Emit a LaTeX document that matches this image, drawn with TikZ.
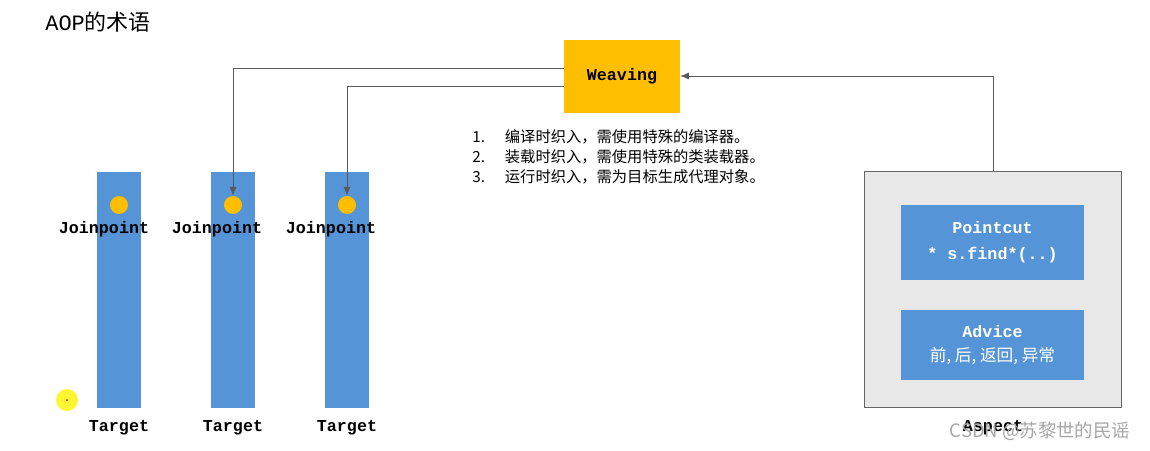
\documentclass[tikz,border=0pt]{standalone}
\usepackage{fontspec}
\setmainfont{Liberation Sans}
\setmonofont{Liberation Mono}
\newfontfamily\cjk{Noto Sans CJK SC}
\newfontfamily\courier{Liberation Mono}
\begin{document}
\begin{tikzpicture}[x=0.02cm,y=-0.02cm,
  bar/.style={fill=blueA,draw=none},
  dot/.style={circle,fill=gold,minimum size=18*0.567pt,inner sep=0},
  mlab/.style={font=\ttfamily\bfseries\fontsize{9.5}{11}\selectfont},
  conn/.style={draw=gray!70!black,line width=0.5pt},
  arr/.style={conn,-{Latex[length=5pt,width=4pt]}}]
\usetikzlibrary{arrows.meta}
\definecolor{blueA}{HTML}{5594D6}
\definecolor{gold}{HTML}{FFBF00}
\useasboundingbox (0,0) rectangle (1150,450);
\node[anchor=west,inner sep=0] (title) at (45,22) {\fontsize{12.5}{14}\selectfont{\courier AOP}\cjk 的术语};
% bars
\fill[bar] (97,172) rectangle (141,408);
\fill[bar] (211,172) rectangle (255,408);
\fill[bar] (325,172) rectangle (369,408);
\node[dot] (d1) at (119,205) {};
\node[dot] (d2) at (233,205) {};
\node[dot] (d3) at (347,205) {};
\node[mlab] (j1) at (104,229) {Joinpoint};
\node[mlab] (j2) at (217,229) {Joinpoint};
\node[mlab] (j3) at (331,229) {Joinpoint};
\node[mlab] (t1) at (119,428) {Target};
\node[mlab] (t2) at (233,428) {Target};
\node[mlab] (t3) at (347,428) {Target};
\fill[yellow!80] (67,400) circle (11);
\fill[red] (67,400) circle (1);
% weaving
\node[fill=gold,minimum width=116*0.567pt,minimum height=73*0.567pt,inner sep=0,mlab] (w) at (622,76.5) {Weaving};
\coordinate (c1) at (233,68);
\coordinate (c2) at (347,86);
\draw[arr] (w.west|-c1) -| (d2.north);
\draw[arr] (w.west|-c2) -| (d3.north);
% list
\node[anchor=north west,inner sep=0,align=left,font=\cjk\fontsize{8.7}{12}\selectfont] (list) at (472,129)
{1.\hspace{1.3em}编译时织入，需使用特殊的编译器。\\[-0.5pt]
 2.\hspace{1.3em}装载时织入，需使用特殊的类装载器。\\[-0.5pt]
 3.\hspace{1.3em}运行时织入，需为目标生成代理对象。};
% aspect
\node[fill=gray!18,draw=gray!80!black,line width=0.8pt,minimum width=258*0.567pt,minimum height=237*0.567pt,inner sep=0] (asp) at (993,289.5) {};
\node[fill=blueA,minimum width=183*0.567pt,minimum height=75*0.567pt,inner sep=0,text=white,align=center] (pc) at (992.5,242.5)
 {\ttfamily\bfseries\fontsize{9.5}{11}\selectfont Pointcut\\[3pt]\ttfamily\bfseries\fontsize{9.5}{11}\selectfont * s.find*(..)};
\node[fill=blueA,minimum width=183*0.567pt,minimum height=70*0.567pt,inner sep=0,text=white,align=center] (adv) at (992.5,345)
 {\ttfamily\bfseries\fontsize{9.5}{11}\selectfont Advice\\[2pt]\cjk\fontsize{9.5}{11}\selectfont 前, 后, 返回, 异常};
\coordinate (c3) at (993,76);
\draw[arr] (asp.north) -- (c3) -- (w.east|-c3);
\node[mlab] (al) at (993,428) {Aspect};
\node[text=gray!70,font=\cjk\fontsize{10.5}{12}\selectfont] (wm) at (1040,431) {CSDN @苏黎世的民谣};
\end{tikzpicture}
\end{document}
